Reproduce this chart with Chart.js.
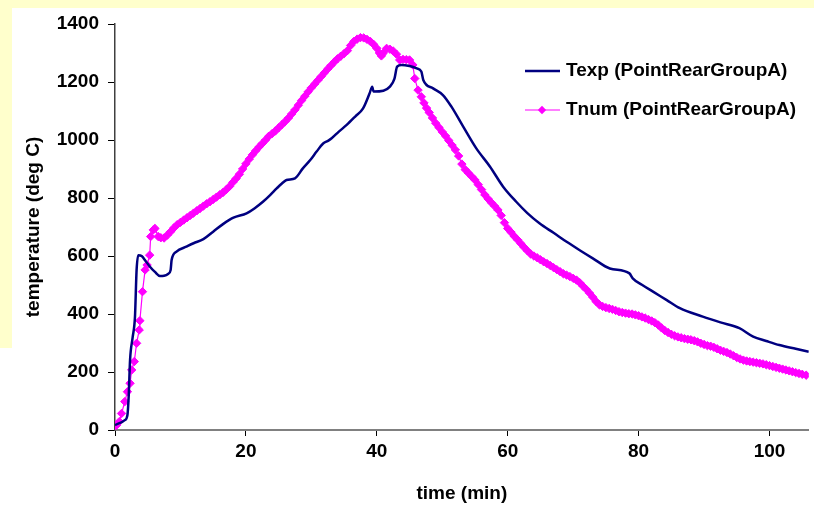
<!DOCTYPE html>
<html>
<head>
<meta charset="utf-8">
<script src="https://cdn.jsdelivr.net/npm/chart.js@4.4.1/dist/chart.umd.min.js"></script>
<style>
  body { margin: 0; background: #fff; }
  #c { display: block; }
</style>
</head>
<body>
<canvas id="c" width="814" height="510"></canvas>
<script>
// measured curve (min, deg C)
var expTime = [0, 1.5, 1.9, 2.1, 2.3, 2.7, 3.05, 3.3, 3.56, 4.07, 4.7, 5.34, 6.1, 6.87, 7.5, 8.1, 8.5, 8.65, 9.4, 10.9,
  12, 13.5, 15, 16.5, 18.1, 20.1, 21.3, 22.6, 23.7, 24.7, 25.5, 26.2, 27.5, 28.7, 29.8, 30.8, 31.8, 32.6, 33.1, 34.2,
  35.4, 36.7, 37.9, 38.9, 39.3, 39.5, 41, 42, 42.7, 43.1, 43.8, 45, 46.1, 46.8, 47.1, 48.6, 50.1, 51.4, 53.2, 55.2,
  57.3, 59.3, 61.3, 63, 64.9, 67, 69, 71, 73, 75.6, 78.6, 79.1, 80.5, 82.2, 84.3, 86.3, 89.8, 92.5, 95.4, 97.5,
  99.5, 101.5, 104, 106];
var expTemp = [17, 34, 52, 120, 241, 320, 390, 552, 603, 600, 582, 563, 545, 531, 532, 538, 552, 586, 615, 632,
  644, 658, 684, 710, 732, 747, 764, 787, 810, 833, 850, 862, 868, 902, 930, 960, 988, 998, 1006, 1029,
  1052, 1081, 1109, 1161, 1184, 1167, 1170, 1184, 1212, 1253, 1259, 1255, 1247, 1236, 1207, 1178, 1155, 1115, 1046, 971,
  908, 839, 787, 748, 712, 680, 649, 620, 592, 557, 540, 523, 501, 477, 448, 420, 391, 371, 351, 322,
  307, 293, 280, 270];

// simulated curve (min, deg C)
var numTime = [0, 0.25, 0.66, 1.0, 1.5, 1.9, 2.3, 2.55, 2.95, 3.3, 3.7, 3.8, 4.2, 4.6, 4.9, 5.3, 5.45, 5.85, 6.1, 6.6,
  7, 7.5, 8, 8.5, 9, 9.5, 10, 10.5, 11, 11.5, 12, 12.5, 13, 13.5, 14, 14.5, 15, 15.5, 16, 16.5,
  17, 17.5, 18, 18.5, 19, 19.5, 20, 20.5, 21, 21.5, 22, 22.5, 23, 23.5, 24, 24.5, 25, 25.5, 26, 26.5,
  27, 27.5, 28, 28.5, 29, 29.5, 30, 30.5, 31, 31.5, 32, 32.5, 33, 33.5, 34, 34.5, 35, 35.5, 36, 36.5,
  37, 37.5, 38, 38.5, 39, 39.5, 40, 40.4, 40.7, 41, 41.5, 42, 42.5, 43, 43.5, 44, 44.5, 45, 45.5, 45.8,
  46.3, 46.8, 47.2, 47.6, 48, 48.5, 49, 49.5, 50, 50.5, 51, 51.5, 52, 52.5, 53, 53.5, 54, 54.5, 55, 55.5,
  56, 56.5, 57, 57.5, 58, 58.5, 59, 59.5, 60, 60.5, 61, 61.5, 62, 62.5, 63, 63.5, 64, 64.5, 65, 65.5,
  66, 66.5, 67, 67.5, 68, 68.5, 69, 69.5, 70, 70.5, 71, 71.5, 72, 72.5, 73, 73.5, 74, 74.5, 75, 75.5,
  76, 76.5, 77, 77.5, 78, 78.5, 79, 79.5, 80, 80.5, 81, 81.5, 82, 82.5, 83, 83.5, 84, 84.5, 85, 85.5,
  86, 86.5, 87, 87.5, 88, 88.5, 89, 89.5, 90, 90.5, 91, 91.5, 92, 92.5, 93, 93.5, 94, 94.5, 95, 95.5,
  96, 96.5, 97, 97.5, 98, 98.5, 99, 99.5, 100, 100.5, 101, 101.5, 102, 102.5, 103, 103.5, 104, 104.5, 105, 105.6];
var numTemp = [14, 17, 29, 57, 98, 132, 161, 207, 236, 299, 345, 377, 477, 552, 569, 603, 667, 690, 695, 667,
  663, 662, 672, 684, 697, 708, 716, 724, 732, 740, 748, 756, 764, 772, 780, 787, 795, 803, 811, 819,
  829, 840, 854, 867, 882, 900, 918, 934, 949, 963, 976, 988, 1000, 1013, 1022, 1031, 1042, 1053, 1064, 1076,
  1090, 1104, 1120, 1136, 1151, 1166, 1180, 1193, 1206, 1219, 1232, 1245, 1257, 1269, 1280, 1289, 1298, 1308, 1326, 1340,
  1348, 1353, 1352, 1347, 1340, 1330, 1316, 1300, 1290, 1300, 1316, 1313, 1307, 1296, 1276, 1278, 1277, 1276, 1259, 1212,
  1172, 1149, 1128, 1110, 1095, 1076, 1058, 1043, 1028, 1014, 998, 982, 966, 945, 917, 898, 886, 874, 862, 846,
  829, 811, 797, 784, 772, 759, 740, 715, 695, 682, 668, 656, 643, 630, 618, 607, 600, 594, 587, 580,
  574, 567, 560, 553, 546, 539, 534, 529, 523, 517, 508, 496, 485, 472, 458, 443, 432, 426, 422, 419,
  416, 412, 408, 405, 403, 401, 400, 397, 394, 390, 386, 381, 376, 370, 362, 352, 343, 336, 330, 325,
  321, 318, 315, 313, 311, 308, 304, 299, 295, 291, 289, 285, 280, 275, 271, 267, 262, 256, 250, 245,
  241, 238, 236, 234, 232, 230, 228, 225, 222, 219, 216, 213, 210, 207, 204, 201, 198, 195, 192, 189];

var seriesNames = ['Texp (PointRearGroupA)', 'Tnum (PointRearGroupA)'];
var xTicks = [0, 20, 40, 60, 80, 100];
var yTicks = [0, 200, 400, 600, 800, 1000, 1200, 1400];

var font = { family: 'Arial, "Liberation Sans", sans-serif', size: 19, weight: 'bold' };

function toPoints(xs, ys) {
  return xs.map(function(x, i) { return { x: x, y: ys[i] }; });
}

var background = {
  id: 'background',
  beforeDraw: function(chart) {
    var ctx = chart.ctx;
    ctx.save();
    ctx.fillStyle = '#ffffcc';
    ctx.fillRect(0, 0, chart.width, 348);
    ctx.fillStyle = '#ffffff';
    ctx.fillRect(12, 8, chart.width - 12, chart.height - 8);
    ctx.restore();
  }
};

// legend sits inside the plot, top right
var legendBox = {
  id: 'legendBox',
  afterDraw: function(chart) {
    var ctx = chart.ctx;
    ctx.save();
    ctx.font = 'bold 19px Arial, "Liberation Sans", sans-serif';
    ctx.textBaseline = 'middle';
    chart.data.datasets.forEach(function(ds, i) {
      var y = 71 + i * 39;
      ctx.strokeStyle = ds.borderColor;
      ctx.lineWidth = ds.borderWidth;
      ctx.beginPath();
      ctx.moveTo(525, y);
      ctx.lineTo(560, y);
      ctx.stroke();
      if (ds.pointRadius > 0) {
        var r = ds.pointRadius;
        ctx.fillStyle = ds.pointBackgroundColor;
        ctx.beginPath();
        ctx.moveTo(542 - r, y);
        ctx.lineTo(542, y - r);
        ctx.lineTo(542 + r, y);
        ctx.lineTo(542, y + r);
        ctx.closePath();
        ctx.fill();
      }
      ctx.fillStyle = '#000';
      ctx.fillText(ds.label, 566, y);
    });
    ctx.restore();
  }
};

var ctx = document.getElementById('c').getContext('2d');
var chart = new Chart(ctx, {
  type: 'line',
  data: {
    datasets: [{
      label: seriesNames[0],
      data: toPoints(expTime, expTemp),
      borderColor: '#000080',
      borderWidth: 2.5,
      pointRadius: 0,
      cubicInterpolationMode: 'monotone',
      fill: false
    }, {
      label: seriesNames[1],
      data: toPoints(numTime, numTemp),
      borderColor: '#ff00ff',
      borderWidth: 1.2,
      pointStyle: 'rectRot',
      pointRadius: 4.2,
      pointBorderWidth: 1,
      pointBackgroundColor: '#ff00ff',
      pointBorderColor: '#ff00ff',
      fill: false
    }]
  },
  options: {
    responsive: false,
    animation: false,
    layout: { padding: { top: 24, right: 5, left: 0, bottom: 0 } },
    plugins: { legend: { display: false }, tooltip: { enabled: false } },
    scales: {
      x: {
        type: 'linear',
        min: 0,
        max: 106,
        border: { color: '#808080', width: 2 },
        grid: { drawOnChartArea: false, tickLength: 6, color: '#000' },
        ticks: { font: font, color: '#000', padding: 4, maxRotation: 0, autoSkip: false,
          callback: function(v) { return String(v); } },
        title: { display: true, text: 'time (min)', font: font, color: '#000', padding: { top: 0, bottom: 5 } },
        afterBuildTicks: function(s) { s.ticks = xTicks.map(function(v) { return { value: v }; }); },
        afterFit: function(s) { s.height = 80; }
      },
      y: {
        min: 0,
        max: 1400,
        border: { color: '#404040', width: 1.5 },
        grid: { drawOnChartArea: false, tickLength: 7, color: '#000' },
        ticks: { font: font, color: '#000', padding: 9, callback: function(v) { return String(v); } },
        title: { display: true, text: 'temperature (deg C)', font: font, color: '#000', padding: { top: 22, bottom: 0 } },
        afterBuildTicks: function(s) { s.ticks = yTicks.map(function(v) { return { value: v }; }); },
        afterFit: function(s) { s.width = 115; }
      }
    }
  },
  plugins: [background, legendBox]
});
</script>
</body>
</html>
